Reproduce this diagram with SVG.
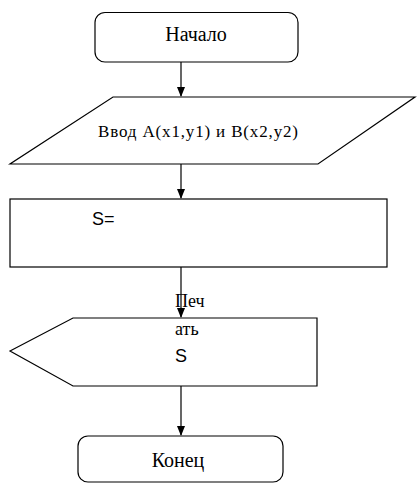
<svg xmlns="http://www.w3.org/2000/svg" width="417" height="484" viewBox="0 0 417 484">
<style>
.s{fill:#fff;stroke:#000;stroke-width:1.2}
.t{font-family:"Liberation Serif","DejaVu Serif",serif;fill:#000}
.ts{font-family:"Liberation Sans","DejaVu Sans",sans-serif;fill:#000}
.c{stroke:#000;stroke-width:1.2;fill:none}
</style>
<defs>
<marker id="a" markerWidth="10" markerHeight="10" refX="9" refY="5" orient="auto" markerUnits="userSpaceOnUse">
<path d="M0,1 L10,5 L0,9 Z" fill="#000"/>
</marker>
</defs>
<rect width="417" height="484" fill="#fff"/>
<g id="start">
<rect class="s" x="95" y="12.5" width="203" height="49.5" rx="10"/>
<text class="t" x="196" y="41" font-size="20" text-anchor="middle">Начало</text>
</g>
<g id="input">
<polygon class="s" points="113,97 415,97 318,164 10,164"/>
<text class="t" x="98" y="137" font-size="17" textLength="200" lengthAdjust="spacing">Ввод A(x1,y1) и B(x2,y2)</text>
</g>
<g id="process">
<rect class="s" x="10" y="199" width="377" height="68"/>
<text class="ts" x="92" y="225" font-size="18">S=</text>
</g>
<g id="output">
<polygon class="s" points="10,351 73,318 317,318 317,386 73,386"/>
<text class="t" x="175" y="307" font-size="18">Печ</text>
<text class="t" x="175" y="335" font-size="18">ать</text>
<text class="ts" x="175" y="362" font-size="18">S</text>
</g>
<g id="end">
<rect class="s" x="78" y="436" width="205" height="46" rx="10"/>
<text class="t" x="178" y="467" font-size="20" text-anchor="middle">Конец</text>
</g>
<g id="connectors">
<line class="c" x1="181" y1="62" x2="181" y2="96" marker-end="url(#a)"/>
<line class="c" x1="181" y1="164" x2="181" y2="198" marker-end="url(#a)"/>
<line class="c" x1="181" y1="267" x2="181" y2="317" marker-end="url(#a)"/>
<line class="c" x1="181" y1="386" x2="181" y2="435" marker-end="url(#a)"/>
</g>
</svg>
